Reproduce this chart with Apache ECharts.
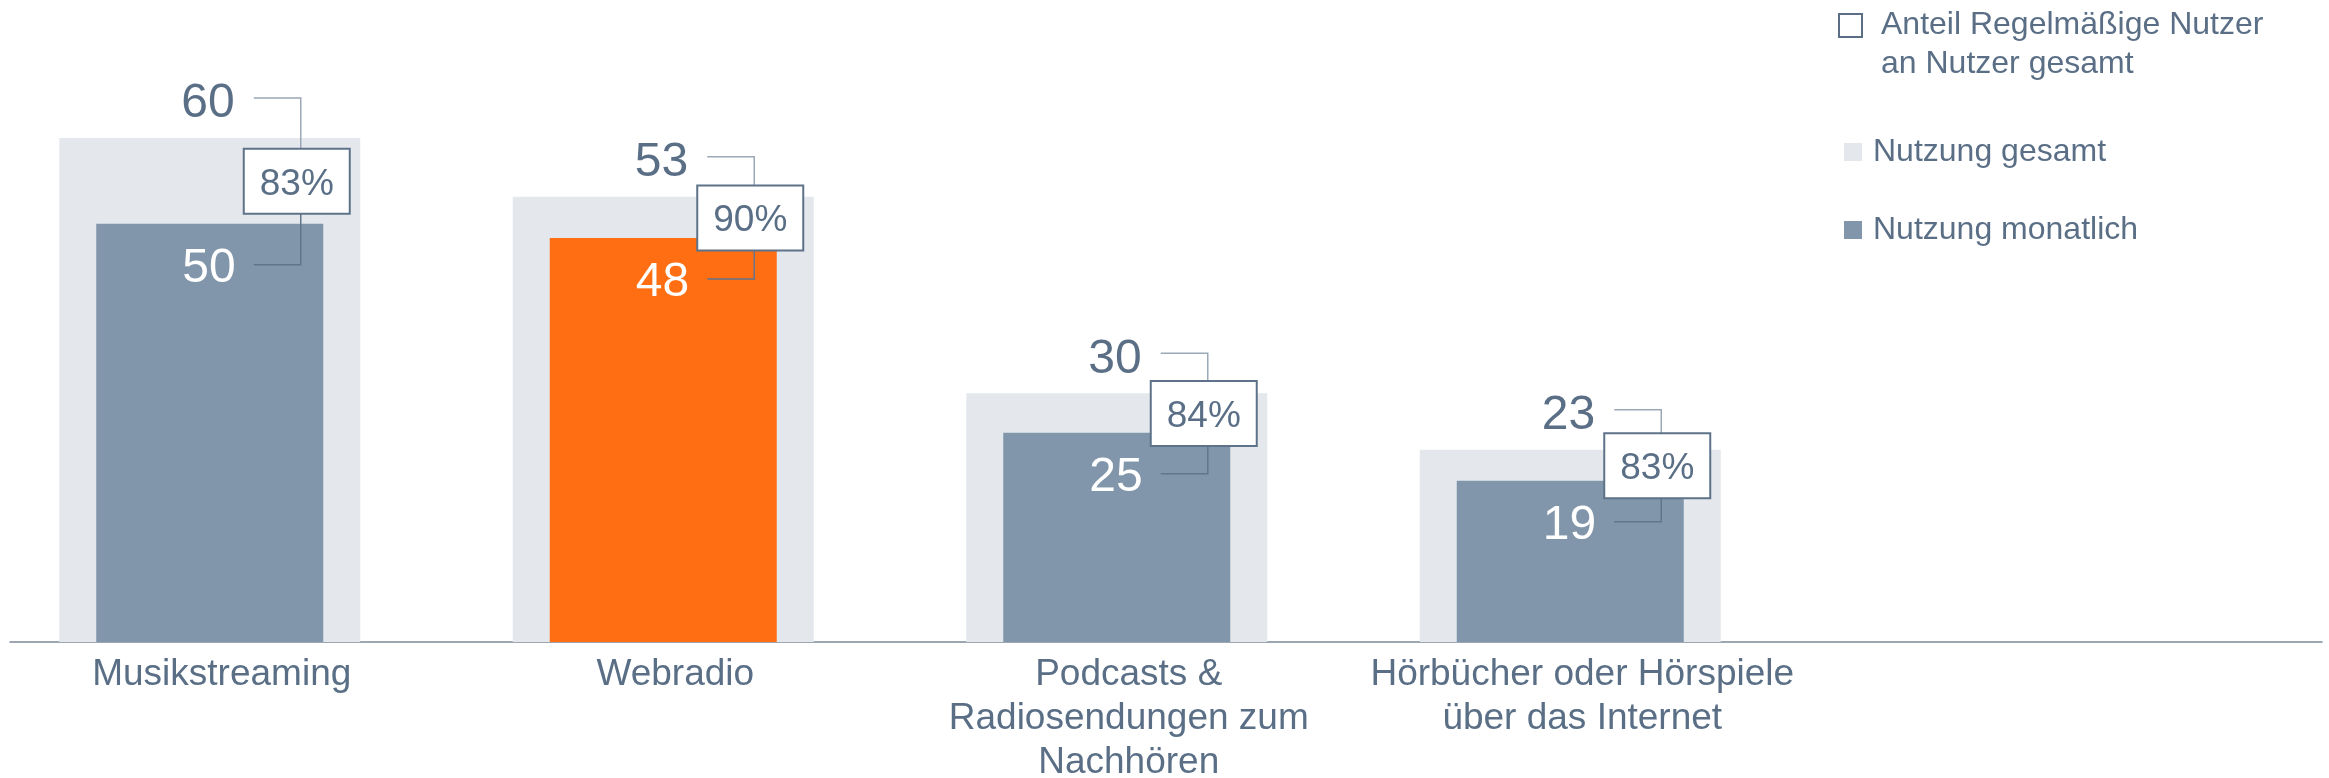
<!DOCTYPE html>
<html>
<head>
<meta charset="utf-8">
<title>Nutzung Audio-Angebote</title>
<script src="https://cdn.jsdelivr.net/npm/echarts@6/dist/echarts.min.js"></script>
<style>
html,body{margin:0;padding:0;background:#fff;}
#main{width:2329px;height:778px;}
</style>
</head>
<body>
<div id="main"></div>
<script>
// Kategorien und Werte
var categories = ['Musikstreaming', 'Webradio', 'Podcasts &\nRadiosendungen zum\nNachhören', 'Hörbücher oder Hörspiele\nüber das Internet'];
var nutzungGesamt = [60, 53, 29.6, 22.9];
var nutzungMonatlich = [49.8, 48.1, 24.9, 19.2];
var anteilRegelmaessig = [83, 90, 84, 83];
var highlightIndex = 1;

var FONT = '"Liberation Sans", Arial, sans-serif';
var TEXT_COLOR = '#5A6F86';

var noteData = [];
for (var i = 0; i < categories.length; i++) {
	noteData.push([i, nutzungGesamt[i], nutzungMonatlich[i], anteilRegelmaessig[i]]);
}

var monatlichData = [];
for (var k = 0; k < nutzungMonatlich.length; k++) {
	if (k == highlightIndex) {
		monatlichData.push({value: nutzungMonatlich[k], itemStyle: {color: '#FF6E12'}});
	} else {
		monatlichData.push(nutzungMonatlich[k]);
	}
}

// Zahlen, Verbindungslinien und Kasten mit dem Anteil
function renderNote(params, api) {
	var idx = api.value(0);
	var top = api.coord([idx, api.value(1)]);
	var low = api.coord([idx, api.value(2)]);
	var c = top[0];
	var yUp = top[1] - 40;
	var yLow = low[1] + 41;
	var mid = (yUp + yLow) / 2;
	return {
		type: 'group',
		children: [
			{type: 'polyline', shape: {points: [[c + 44, yUp], [c + 91, yUp], [c + 91, mid]]},
				style: {stroke: '#9AA8B7', lineWidth: 1.5, fill: null}},
			{type: 'polyline', shape: {points: [[c + 91, mid], [c + 91, yLow], [c + 44, yLow]]},
				style: {stroke: '#61758B', lineWidth: 1.5, fill: null}},
			{type: 'rect', shape: {x: c + 34, y: mid - 32.5, width: 106, height: 65},
				style: {fill: '#fff', stroke: '#5E7389', lineWidth: 2}},
			{type: 'text', x: c + 87, y: mid + 3,
				style: {text: api.value(3) + '%', font: '37px ' + FONT, fill: TEXT_COLOR, align: 'center', verticalAlign: 'middle'}},
			{type: 'text', x: c + 25, y: top[1] - 34,
				style: {text: String(Math.round(api.value(1))), font: '48px ' + FONT, fill: TEXT_COLOR, align: 'right', verticalAlign: 'middle'}},
			{type: 'text', x: c + 26, y: low[1] + 45,
				style: {text: String(Math.round(api.value(2))), font: '48px ' + FONT, fill: '#fff', align: 'right', verticalAlign: 'middle'}}
		]
	};
}

var myChart = echarts.init(document.getElementById('main'));
var option = {
	animation: false,
	backgroundColor: '#fff',
	textStyle: {fontFamily: FONT},
	grid: [
		{left: -17, right: 532, top: 54, bottom: 136, outerBoundsMode: 'none', containLabel: false},
		{left: 10, right: 7, top: 54, bottom: 136, outerBoundsMode: 'none', containLabel: false}
	],
	xAxis: [
		{
			type: 'category', gridIndex: 0, data: categories,
			axisLine: {show: false}, axisTick: {show: false},
			axisLabel: {interval: 0, margin: 11, fontSize: 37, lineHeight: 44, color: TEXT_COLOR, fontFamily: FONT, padding: [0, 0, 0, 24]}
		},
		{type: 'category', gridIndex: 0, data: categories, show: false},
		{
			type: 'value', gridIndex: 1, min: 0, max: 1, position: 'bottom',
			axisLine: {show: true, lineStyle: {color: '#7E8A98', width: 1.5}},
			axisTick: {show: false}, axisLabel: {show: false}, splitLine: {show: false}
		}
	],
	yAxis: [
		{type: 'value', gridIndex: 0, min: 0, max: 70, show: false, splitLine: {show: false}},
		{type: 'value', gridIndex: 1, min: 0, max: 1, show: false, splitLine: {show: false}}
	],
	legend: {
		orient: 'vertical', left: 1839, top: 127,
		itemWidth: 18, itemHeight: 18, itemGap: 38, icon: 'rect',
		selectedMode: false,
		data: ['Nutzung gesamt', 'Nutzung monatlich'],
		textStyle: {fontSize: 32, lineHeight: 40, color: TEXT_COLOR, fontFamily: FONT, padding: [0, 0, 0, 6]}
	},
	graphic: [
		{type: 'rect', left: 1838, top: 13, shape: {width: 23, height: 23},
			style: {fill: '#fff', stroke: TEXT_COLOR, lineWidth: 2}},
		{type: 'text', left: 1881, top: 6,
			style: {text: 'Anteil Regelmäßige Nutzer\nan Nutzer gesamt', font: '32px ' + FONT, lineHeight: 39, fill: TEXT_COLOR}}
	],
	series: [
		{
			name: 'Nutzung gesamt', type: 'bar', xAxisIndex: 0, yAxisIndex: 0,
			barWidth: 301, data: nutzungGesamt,
			itemStyle: {color: '#E4E8ED'}, z: 1
		},
		{
			name: 'Nutzung monatlich', type: 'bar', xAxisIndex: 1, yAxisIndex: 0,
			barWidth: 227, data: monatlichData,
			itemStyle: {color: '#8196AA'}, z: 2
		},
		{
			name: 'Anteil', type: 'custom', xAxisIndex: 0, yAxisIndex: 0,
			renderItem: renderNote, data: noteData, z: 5,
			encode: {x: 0, y: 1}
		}
	]
};
myChart.setOption(option);
</script>
</body>
</html>
